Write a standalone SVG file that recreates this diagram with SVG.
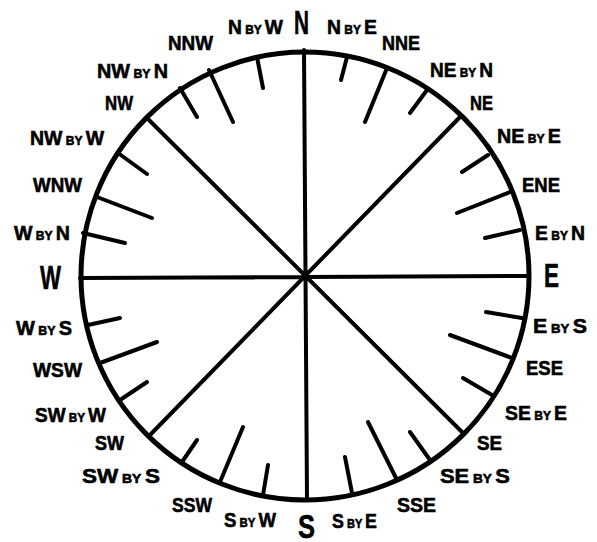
<svg xmlns="http://www.w3.org/2000/svg" width="597" height="542" viewBox="0 0 597 542">
<style>
.ln{stroke:#000;stroke-width:4;stroke-linecap:round;fill:none}
.rim{stroke:#000;stroke-width:5;fill:none}
text{font-family:"Liberation Sans","DejaVu Sans",sans-serif;font-weight:bold;fill:#000;stroke:#000;stroke-width:0.6}
.l{font-size:21px}
.c{font-size:34px}
.b{font-size:13px}
</style>
<rect width="597" height="542" fill="#fff"/>
<g id="connectors">
<circle class="rim" cx="305" cy="276" r="224"/>
<path class="ln" d="M304 50L307 500M80 278L528 276M460 117L150 435M147 118L463 433"/>
<path class="ln" d="M257 57L263 88M209 70L233 122M180 88L197 117M118 153L147 174M97 197L152 218M83 233L125 243"/>
<path class="ln" d="M347 57L341 80M387 68L365 122M427 90L410 113M488 155L462 172M510 192L457 213M520 230L485 238"/>
<path class="ln" d="M522 318L486 312M512 358L450 335M492 395L463 378M430 460L410 432"/>
<path class="ln" d="M397 480L368 422M352 493L345 457M263 495L268 465M220 482L243 427M182 462L197 440"/>
<path class="ln" d="M88 325L120 318M100 363L157 342M120 400L147 382"/>
</g>
<g id="n"><text class="c" x="294" y="34" textLength="15" lengthAdjust="spacingAndGlyphs">N</text></g>
<g id="e"><text class="c" x="544" y="287" textLength="15" lengthAdjust="spacingAndGlyphs">E</text></g>
<g id="s"><text class="c" x="298" y="538" textLength="17" lengthAdjust="spacingAndGlyphs">S</text></g>
<g id="w"><text class="c" x="40" y="289" textLength="21" lengthAdjust="spacingAndGlyphs">W</text></g>
<g id="nbyw"><text class="l" x="228" y="34" textLength="55" lengthAdjust="spacingAndGlyphs">N<tspan class="b"> BY </tspan>W</text></g>
<g id="nbye"><text class="l" x="327" y="34" textLength="50" lengthAdjust="spacingAndGlyphs">N<tspan class="b"> BY </tspan>E</text></g>
<g id="nnw"><text class="l" x="168" y="50" textLength="45" lengthAdjust="spacingAndGlyphs">NNW</text></g>
<g id="nne"><text class="l" x="382" y="50" textLength="38" lengthAdjust="spacingAndGlyphs">NNE</text></g>
<g id="nwbyn"><text class="l" x="97" y="78" textLength="71" lengthAdjust="spacingAndGlyphs">NW<tspan class="b"> BY </tspan>N</text></g>
<g id="nw"><text class="l" x="105" y="110" textLength="28" lengthAdjust="spacingAndGlyphs">NW</text></g>
<g id="nwbyw"><text class="l" x="30" y="145" textLength="74" lengthAdjust="spacingAndGlyphs">NW<tspan class="b"> BY </tspan>W</text></g>
<g id="wnw"><text class="l" x="33" y="192" textLength="49" lengthAdjust="spacingAndGlyphs">WNW</text></g>
<g id="wbyn"><text class="l" x="14" y="240" textLength="56" lengthAdjust="spacingAndGlyphs">W<tspan class="b"> BY </tspan>N</text></g>
<g id="wbys"><text class="l" x="16" y="335" textLength="56" lengthAdjust="spacingAndGlyphs">W<tspan class="b"> BY </tspan>S</text></g>
<g id="wsw"><text class="l" x="33" y="377" textLength="49" lengthAdjust="spacingAndGlyphs">WSW</text></g>
<g id="swbyw"><text class="l" x="35" y="422" textLength="71" lengthAdjust="spacingAndGlyphs">SW<tspan class="b"> BY </tspan>W</text></g>
<g id="sw"><text class="l" x="95" y="450" textLength="29" lengthAdjust="spacingAndGlyphs">SW</text></g>
<g id="swbys"><text class="l" x="82" y="483" textLength="78" lengthAdjust="spacingAndGlyphs">SW<tspan class="b"> BY </tspan>S</text></g>
<g id="ssw"><text class="l" x="172" y="512" textLength="40" lengthAdjust="spacingAndGlyphs">SSW</text></g>
<g id="sbyw"><text class="l" x="224" y="527" textLength="52" lengthAdjust="spacingAndGlyphs">S<tspan class="b"> BY </tspan>W</text></g>
<g id="sbye"><text class="l" x="332" y="528" textLength="45" lengthAdjust="spacingAndGlyphs">S<tspan class="b"> BY </tspan>E</text></g>
<g id="sse"><text class="l" x="397" y="512" textLength="39" lengthAdjust="spacingAndGlyphs">SSE</text></g>
<g id="sebys"><text class="l" x="440" y="483" textLength="70" lengthAdjust="spacingAndGlyphs">SE<tspan class="b"> BY </tspan>S</text></g>
<g id="se"><text class="l" x="477" y="450" textLength="25" lengthAdjust="spacingAndGlyphs">SE</text></g>
<g id="sebye"><text class="l" x="505" y="420" textLength="62" lengthAdjust="spacingAndGlyphs">SE<tspan class="b"> BY </tspan>E</text></g>
<g id="ese"><text class="l" x="526" y="375" textLength="37" lengthAdjust="spacingAndGlyphs">ESE</text></g>
<g id="ebys"><text class="l" x="533" y="333" textLength="54" lengthAdjust="spacingAndGlyphs">E<tspan class="b"> BY </tspan>S</text></g>
<g id="ebyn"><text class="l" x="535" y="240" textLength="50" lengthAdjust="spacingAndGlyphs">E<tspan class="b"> BY </tspan>N</text></g>
<g id="ene"><text class="l" x="522" y="192" textLength="38" lengthAdjust="spacingAndGlyphs">ENE</text></g>
<g id="nebye"><text class="l" x="497" y="143" textLength="64" lengthAdjust="spacingAndGlyphs">NE<tspan class="b"> BY </tspan>E</text></g>
<g id="ne"><text class="l" x="470" y="110" textLength="23" lengthAdjust="spacingAndGlyphs">NE</text></g>
<g id="nebyn"><text class="l" x="430" y="77" textLength="63" lengthAdjust="spacingAndGlyphs">NE<tspan class="b"> BY </tspan>N</text></g>
</svg>
